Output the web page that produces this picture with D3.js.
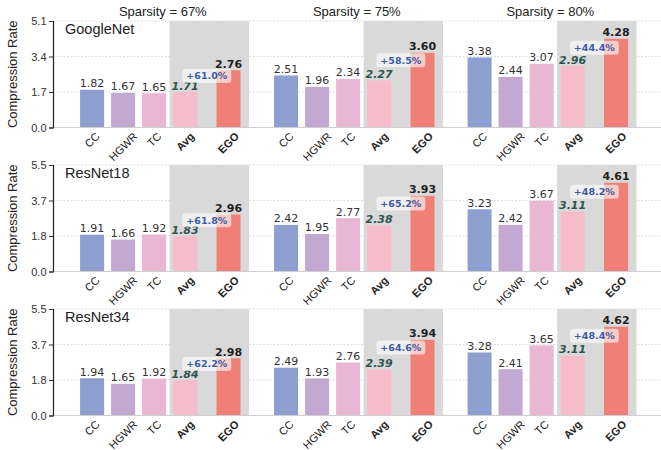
<!DOCTYPE html>
<html>
<head>
<meta charset="utf-8">
<script src="https://cdn.jsdelivr.net/npm/d3@7"></script>
<style>
  html, body { margin: 0; padding: 0; background: #fff; }
  svg { display: block; }
</style>
</head>
<body>
<svg id="chart" width="661" height="450"></svg>
<script>
// ---- data ----
const models = ["GoogleNet", "ResNet18", "ResNet34"];
const sparsities = ["Sparsity = 67%", "Sparsity = 75%", "Sparsity = 80%"];
const methods = ["CC", "HGWR", "TC", "Avg", "EGO"];
const methodPos = [0, 1, 2, 3, 4.4];

// values per model (rows) and sparsity (columns)
const ccValues   = [[1.82, 2.51, 3.38], [1.91, 2.42, 3.23], [1.94, 2.49, 3.28]];
const hgwrValues = [[1.67, 1.96, 2.44], [1.66, 1.95, 2.42], [1.65, 1.93, 2.41]];
const tcValues   = [[1.65, 2.34, 3.07], [1.92, 2.77, 3.67], [1.92, 2.76, 3.65]];
const avgValues  = [[1.71, 2.27, 2.96], [1.83, 2.38, 3.11], [1.84, 2.39, 3.11]];
const egoValues  = [[2.76, 3.60, 4.28], [2.96, 3.93, 4.61], [2.98, 3.94, 4.62]];
const gainLabels = [["+61.0%", "+58.5%", "+44.4%"], ["+61.8%", "+65.2%", "+48.2%"], ["+62.2%", "+64.6%", "+48.4%"]];

const colors = ["#8c9fcf", "#c3a9d1", "#e9b6d3", "#f6bccb", "#f07f77"];

// ---- layout ----
const svg = d3.select("#chart");
const rowTop = [21, 165, 309];
const rowH = 106.5;
const panelLeft = [53, 247, 440.5];
const panelW = 196;
const xDomain = [-1.26, 5.06];
const shadeFrom = 2.5;
const titleCenter = 2.28;
const sans = "'Liberation Sans', Arial, sans-serif";
const dv = "'DejaVu Sans', sans-serif";
const c45 = Math.SQRT1_2;

models.forEach((model, r) => {
  const top = rowTop[r], bottom = top + rowH;
  const ymax = 1.2 * d3.max(egoValues[r]);
  const y = d3.scaleLinear().domain([0, ymax]).range([bottom, top]);
  const ticks = d3.range(4).map(i => ymax * i / 3);

  const row = svg.append("g");

  // grid lines across the row
  row.selectAll("line.grid").data(ticks.slice(1)).join("line")
    .attr("x1", panelLeft[0]).attr("x2", 661)
    .attr("y1", d => y(d)).attr("y2", d => y(d))
    .attr("stroke", "#d4d4d4").attr("stroke-width", 0.8)
    .attr("stroke-dasharray", "2,1.5");

  sparsities.forEach((sp, c) => {
    const x = d3.scaleLinear().domain(xDomain).range([panelLeft[c], panelLeft[c] + panelW]);
    const g = row.append("g");

    // shaded region behind Avg and EGO
    g.append("rect")
      .attr("x", x(shadeFrom)).attr("y", top)
      .attr("width", x(xDomain[1]) - x(shadeFrom)).attr("height", rowH)
      .attr("fill", "#d9d9d9");

    if (r === 0) {
      g.append("text")
        .attr("x", x(titleCenter)).attr("y", 15.5)
        .attr("text-anchor", "middle")
        .attr("font-family", sans).attr("font-size", 13).attr("fill", "#222")
        .text(sp);
    }

    const vals = [ccValues[r][c], hgwrValues[r][c], tcValues[r][c], avgValues[r][c], egoValues[r][c]];
    const bars = methods.map((m, i) => ({ m, v: vals[i], p: methodPos[i], color: colors[i], i }));
    const bw = 24 / 31;

    g.selectAll("rect.bar").data(bars).join("rect")
      .attr("class", "bar")
      .attr("x", d => x(d.p - bw / 2)).attr("width", d => x(d.p + bw / 2) - x(d.p - bw / 2))
      .attr("y", d => y(d.v)).attr("height", d => y(0) - y(d.v))
      .attr("fill", d => d.color);

    // value labels
    g.selectAll("text.val").data(bars).join("text")
      .attr("x", d => x(d.p)).attr("y", d => y(d.v) - 2.5)
      .attr("text-anchor", "middle")
      .attr("font-family", dv).attr("font-size", 11)
      .attr("font-weight", d => d.i >= 3 ? "bold" : "normal")
      .attr("font-style", d => d.i === 3 ? "italic" : "normal")
      .attr("fill", d => d.i === 3 ? "#2e5450" : (d.i === 4 ? "#1f1f1f" : "#333"))
      .text(d => d.v.toFixed(2));

    // improvement badge
    const bx = x((methodPos[3] + methodPos[4]) / 2);
    const by = y(egoValues[r][c] * 0.9);
    const badge = g.append("g");
    const bt = badge.append("text")
      .attr("x", bx).attr("y", by)
      .attr("text-anchor", "middle").attr("dominant-baseline", "central")
      .attr("font-family", dv).attr("font-size", 9.5).attr("font-weight", "bold")
      .attr("fill", "#3a5ba8")
      .text(gainLabels[r][c]);
    const tw = bt.node().getComputedTextLength();
    badge.insert("rect", "text")
      .attr("x", bx - tw / 2 - 4).attr("y", by - 7)
      .attr("width", tw + 8).attr("height", 14)
      .attr("rx", 3).attr("fill", "#fff").attr("fill-opacity", 0.6);

    // category labels, turned 45 degrees counter-clockwise
    bars.forEach(d => {
      const t = g.append("text")
        .attr("font-family", sans).attr("font-size", 11)
        .attr("font-weight", d.i >= 3 ? "bold" : "normal")
        .attr("fill", "#222")
        .attr("text-anchor", "middle")
        .attr("dy", "0.35em")
        .text(d.m);
      const w = t.node().getComputedTextLength() || d.m.length * 7;
      const h = (w + 8) * c45;
      const cx = x(d.p), cy = bottom + 4 + h / 2;
      t.attr("transform", `matrix(${c45},${-c45},${c45},${c45},${cx},${cy})`);
    });
  });

  // baseline across the row
  row.append("line")
    .attr("x1", panelLeft[0]).attr("x2", 661)
    .attr("y1", bottom).attr("y2", bottom)
    .attr("stroke", "#cfcfcf").attr("stroke-width", 1.2);

  // y axis on the first panel
  const axis = row.append("g").attr("transform", `translate(${panelLeft[0]},0)`)
    .call(d3.axisLeft(y).tickValues(ticks).tickFormat(d3.format(".1f")).tickSize(4).tickPadding(2.5));
  axis.select(".domain").attr("stroke", "#222").attr("stroke-width", 1.2);
  axis.selectAll(".tick line").attr("stroke", "#333");
  axis.selectAll(".tick text").attr("font-family", sans).attr("font-size", 11).attr("fill", "#333");

  row.append("text")
    .attr("transform", `translate(17,${(top + bottom) / 2}) rotate(-90)`)
    .attr("text-anchor", "middle")
    .attr("font-family", sans).attr("font-size", 13).attr("fill", "#222")
    .text("Compression Rate");

  row.append("text")
    .attr("x", 65).attr("y", top + 13)
    .attr("font-family", sans).attr("font-size", 14.5).attr("fill", "#222")
    .text(model);
});
</script>
</body>
</html>
